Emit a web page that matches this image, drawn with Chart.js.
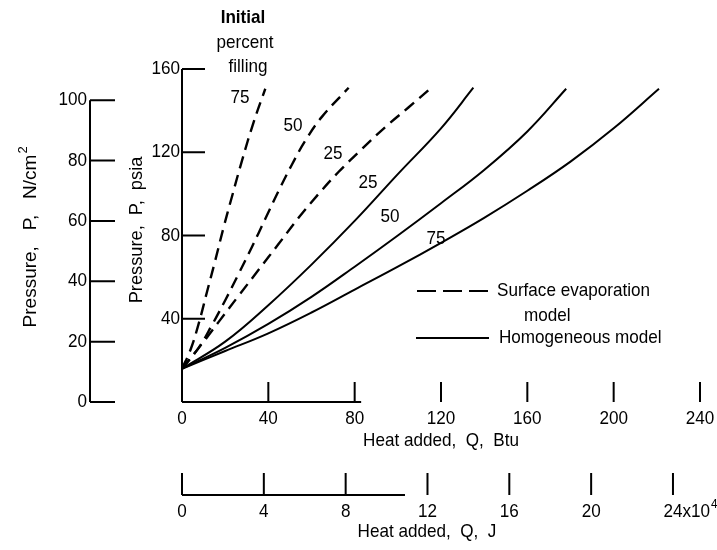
<!DOCTYPE html>
<html>
<head>
<meta charset="utf-8">
<script src="https://cdn.jsdelivr.net/npm/chart.js@4.4.1/dist/chart.umd.min.js"></script>
<style>
  body { margin: 0; background: #fff; }
  #wrap { width: 717px; height: 550px; }
</style>
</head>
<body>
<div id="wrap"><canvas id="chart"></canvas></div>
<script>
// heat added Q (Btu) and pressure P (psia)
const surf75Q = [0, 3.9, 7.7, 11.6, 15.4, 19.3, 23.1, 27.8, 33.2, 38.6];
const surf75P = [16, 25, 37.5, 53, 68, 84, 98.5, 116, 134.5, 150.5];
const surf50Q = [0, 7.7, 13.9, 20.1, 26.2, 32.4, 38.6, 44.8, 50.9, 57.1, 64.8, 77.2];
const surf50P = [16, 26, 37, 49, 61.5, 74.5, 88, 101.5, 114, 125.5, 137, 151];
const surf25Q = [0, 9.3, 17, 26.2, 35.5, 44.8, 54, 63.3, 72.5, 83.3, 94.1, 104.9, 115];
const surf25P = [16, 28, 38.5, 51, 63.5, 76, 88.5, 100, 110.5, 121.5, 132, 141.5, 150.5];
const homo25Q = [0, 20, 40, 60, 80, 100, 120, 135];
const homo25P = [16, 29, 46.5, 66, 87, 109.5, 131.5, 151];
const homo50Q = [0, 20, 40, 60, 80, 100, 120, 140, 160, 178];
const homo50P = [16, 26, 37.5, 50.5, 65, 80, 95.5, 111.5, 130, 150.5];
const homo75Q = [0, 20, 40, 60, 80, 100, 120, 140, 160, 180, 200, 221];
const homo75P = [16, 24.5, 33, 43, 54, 65, 76.5, 88.5, 101.5, 115.5, 131.5, 150.5];

// tick labels
const btuTicks = [0, 40, 80, 120, 160, 200, 240];
const jTicks = [0, 4, 8, 12, 16, 20, 24];      // x10^4 J
const psiaTicks = [40, 80, 120, 160];
const nTicks = [0, 20, 40, 60, 80, 100];

const PSI_TO_N = 0.689476;   // psia -> N/cm2
const BTU_TO_J4 = 0.1055056; // Btu -> 10^4 J

const FONT = '"Liberation Sans", Arial, sans-serif';
const SQUEEZE = 0.9;   // narrow lettering like the original

function pts(qs, ps) {
  return qs.map((q, i) => ({ x: q, y: ps[i] }));
}

const line = (data, dashed) => ({
  data: data,
  borderColor: '#000',
  borderWidth: dashed ? 2.4 : 2,
  borderDash: dashed ? [12, 7] : [],
  pointRadius: 0,
  showLine: true,
  fill: false,
  tension: 0.4
});

// squeezed text
function txt(ctx, s, x, y, align, size, bold, sq) {
  const k = sq || SQUEEZE;
  ctx.save();
  ctx.font = (bold ? 'bold ' : '') + (size || 19) + 'px ' + FONT;
  ctx.textAlign = align || 'center';
  ctx.textBaseline = 'middle';
  ctx.translate(x, y);
  ctx.scale(k, 1);
  ctx.fillText(s, 0, 0);
  const w = ctx.measureText(s).width * k;
  ctx.restore();
  return w;
}

// draws the odd axes, curve labels and legend
const figurePlugin = {
  id: 'figure',
  afterDraw(chart) {
    const ctx = chart.ctx;
    const sx = chart.scales.x, sy = chart.scales.y;
    const sj = chart.scales.xJ, sn = chart.scales.yN;
    ctx.save();
    ctx.strokeStyle = '#000';
    ctx.fillStyle = '#000';
    ctx.lineWidth = 2;

    // psia axis
    const x0 = sx.getPixelForValue(0);
    ctx.beginPath();
    ctx.moveTo(x0, sy.getPixelForValue(0));
    ctx.lineTo(x0, sy.getPixelForValue(160));
    psiaTicks.forEach(v => {
      const y = sy.getPixelForValue(v);
      ctx.moveTo(x0, y);
      ctx.lineTo(x0 + 23, y);
    });
    ctx.stroke();
    psiaTicks.forEach(v => txt(ctx, String(v), x0 - 2, sy.getPixelForValue(v), 'right'));

    // N/cm2 axis
    const xn = 90;
    ctx.beginPath();
    ctx.moveTo(xn, sn.getPixelForValue(0));
    ctx.lineTo(xn, sn.getPixelForValue(100));
    nTicks.forEach(v => {
      const y = sn.getPixelForValue(v);
      ctx.moveTo(xn, y);
      ctx.lineTo(xn + 25, y);
    });
    ctx.stroke();
    nTicks.forEach(v => txt(ctx, String(v), xn - 3, sn.getPixelForValue(v), 'right'));

    // Btu axis
    const yb = sy.getPixelForValue(0);
    ctx.beginPath();
    ctx.moveTo(x0, yb);
    ctx.lineTo(sx.getPixelForValue(83), yb);
    btuTicks.forEach(v => {
      if (v === 0) return;
      const x = sx.getPixelForValue(v);
      ctx.moveTo(x, yb);
      ctx.lineTo(x, yb - 20);
    });
    ctx.stroke();
    btuTicks.forEach(v => txt(ctx, String(v), sx.getPixelForValue(v), yb + 17));
    txt(ctx, 'Heat added,  Q,  Btu', 441, yb + 39);

    // J axis
    const yj = 495;
    ctx.beginPath();
    ctx.moveTo(sj.getPixelForValue(0), yj);
    ctx.lineTo(sj.getPixelForValue(10.9), yj);
    jTicks.forEach(v => {
      const x = sj.getPixelForValue(v);
      ctx.moveTo(x, yj);
      ctx.lineTo(x, yj - 22);
    });
    ctx.stroke();
    jTicks.forEach(v => {
      const x = sj.getPixelForValue(v);
      const w = txt(ctx, String(v), x, yj + 17);
      if (v === 24) {
        const w2 = txt(ctx, 'x10', x + w / 2, yj + 17, 'left');
        txt(ctx, '4', x + w / 2 + w2 + 1, yj + 9, 'left', 13);
      }
    });
    txt(ctx, 'Heat added,  Q,  J', 427, yj + 37);

    // rotated axis titles
    ctx.save();
    ctx.translate(137, 230);
    ctx.rotate(-Math.PI / 2);
    txt(ctx, 'Pressure,  P,  psia', 0, 0, 'center', 19, false, 0.96);
    ctx.restore();
    ctx.save();
    ctx.translate(31, 236);
    ctx.rotate(-Math.PI / 2);
    const tw = txt(ctx, 'Pressure,   P,   N/cm', -5, 0, 'center', 19, false, 1);
    txt(ctx, '2', -5 + tw / 2 + 1, -8, 'left', 13, false, 1);
    ctx.restore();

    // curve labels
    [['75', 240, 98], ['50', 293, 126], ['25', 333, 154],
     ['25', 368, 183], ['50', 390, 217], ['75', 436, 239]].forEach(l => txt(ctx, l[0], l[1], l[2]));
    txt(ctx, 'Initial', 243, 18, 'center', 19, true);
    txt(ctx, 'percent', 245, 43);
    txt(ctx, 'filling', 248, 67);

    // legend
    ctx.lineWidth = 2;
    ctx.beginPath();
    ctx.setLineDash([19, 7]);
    ctx.moveTo(417, 291);
    ctx.lineTo(490, 291);
    ctx.stroke();
    ctx.setLineDash([]);
    ctx.beginPath();
    ctx.moveTo(416, 338);
    ctx.lineTo(489, 338);
    ctx.stroke();
    txt(ctx, 'Surface evaporation', 497, 291, 'left');
    txt(ctx, 'model', 524, 316, 'left');
    txt(ctx, 'Homogeneous model', 499, 338, 'left');
    ctx.restore();
  }
};

new Chart(document.getElementById('chart'), {
  type: 'scatter',
  data: {
    datasets: [
      line(pts(surf75Q, surf75P), true),
      line(pts(surf50Q, surf50P), true),
      line(pts(surf25Q, surf25P), true),
      line(pts(homo25Q, homo25P), false),
      line(pts(homo50Q, homo50P), false),
      line(pts(homo75Q, homo75P), false)
    ]
  },
  options: {
    responsive: true,
    maintainAspectRatio: false,
    animation: false,
    layout: { padding: { left: 182, right: 17, top: 69, bottom: 148 } },
    plugins: { legend: { display: false }, tooltip: { enabled: false } },
    scales: {
      x: { type: 'linear', min: 0, max: 240, display: false },
      y: { type: 'linear', min: 0, max: 160, display: false },
      xJ: { type: 'linear', axis: 'x', min: 0, max: 240 * BTU_TO_J4, display: false },
      yN: { type: 'linear', axis: 'y', min: 0, max: 160 * PSI_TO_N, display: false }
    }
  },
  plugins: [figurePlugin]
});
</script>
</body>
</html>
